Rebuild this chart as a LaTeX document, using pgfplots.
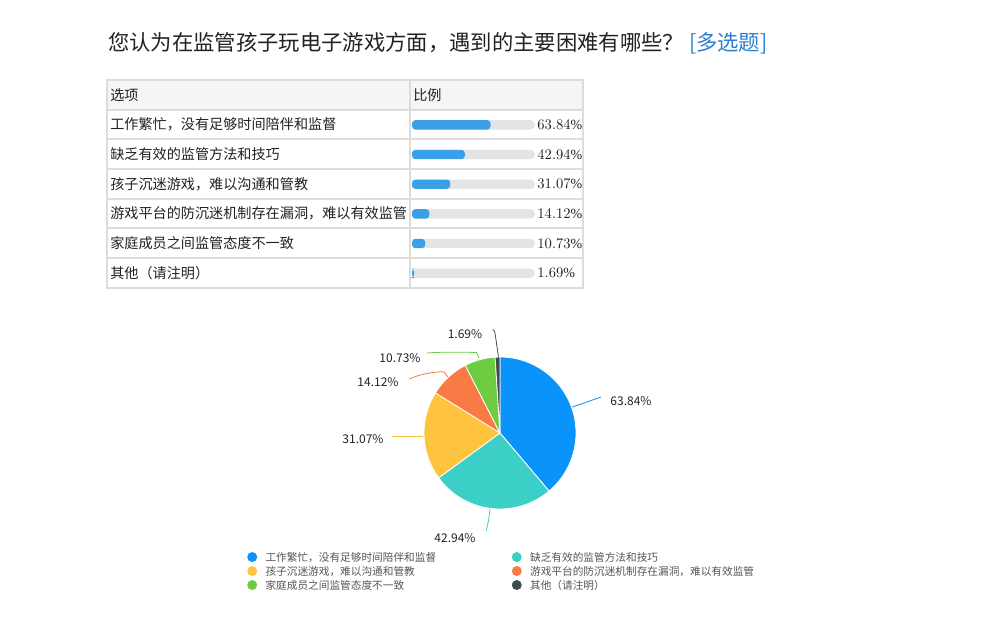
\documentclass[border=0pt]{standalone}
\usepackage{pgfplots}
\pgfplotsset{compat=1.18}
\usepackage{pgfplotstable}
\usepackage{fontspec}
\setmainfont{Noto Sans CJK SC}
\newfontfamily\cjk{Noto Sans CJK SC}
\newfontfamily\tnr{Liberation Serif}
\definecolor{cA}{HTML}{0A93FA}
\definecolor{cB}{HTML}{3BCFC8}
\definecolor{cC}{HTML}{FFC43D}
\definecolor{cD}{HTML}{FA7A45}
\definecolor{cE}{HTML}{6DCC40}
\definecolor{cF}{HTML}{3C4D52}
\definecolor{tblue}{HTML}{3A9FE6}
\definecolor{tgray}{HTML}{E4E4E4}
\definecolor{tline}{HTML}{DCDCDC}
\definecolor{thead}{HTML}{F5F5F5}
\definecolor{txt}{HTML}{222222}
\definecolor{ttl}{HTML}{2A7FCF}
\definecolor{lg}{HTML}{555555}

\pgfplotstableread{
row val full
1 63.84 100
2 42.94 100
3 31.07 100
4 14.12 100
5 10.73 100
6 1.69 100
}\tbl

\begin{document}
\begin{tikzpicture}
\path[fill=white, use as bounding box] (0,0) rectangle (750pt,-470.25pt);

% pie angles (slices proportional to the listed values)
\pgfmathsetmacro\tot{63.84+42.94+31.07+14.12+10.73+1.69}
\pgfmathsetmacro\sA{90}
\pgfmathsetmacro\sB{\sA-63.84/\tot*360}
\pgfmathsetmacro\sC{\sB-42.94/\tot*360}
\pgfmathsetmacro\sD{\sC-31.07/\tot*360}
\pgfmathsetmacro\sE{\sD-14.12/\tot*360}
\pgfmathsetmacro\sF{\sE-10.73/\tot*360}
\pgfmathsetmacro\sG{\sF-1.69/\tot*360}

\begin{scope}[x=0.75pt, y=-0.75pt]
  % title
  \node[anchor=west, inner sep=0pt, font=\fontsize{16}{18}\selectfont, text=txt] at (108,43)
    {您认为在监管孩子玩电子游戏方面，遇到的主要困难有哪些？ \textcolor{ttl}{[多选题]}};
  % table
  \fill[thead] (107,80) rectangle (583,110);
  \draw[tline, line width=1.1pt] (107,80) rectangle (583,288);
  \foreach \yy in {110,139,169,199,228,258} \draw[tline, line width=1.1pt] (107,\yy) -- (583,\yy);
  \draw[tline, line width=1.1pt] (410,80) -- (410,288);
  \begin{scope}[every node/.style={anchor=west, inner sep=0pt, font=\fontsize{10.6}{12}\selectfont, text=txt}]
    \node at (110,95) {选项};
    \node at (413,95) {比例};
    \node at (110,124.5) {工作繁忙，没有足够时间陪伴和监督};
    \node at (110,154) {缺乏有效的监管方法和技巧};
    \node at (110,184) {孩子沉迷游戏，难以沟通和管教};
    \node at (110,213.5) {游戏平台的防沉迷机制存在漏洞，难以有效监管};
    \node at (110,243) {家庭成员之间监管态度不一致};
    \node at (110,273) {其他（请注明）};
  \end{scope}
  % pie labels
  \begin{scope}[every node/.style={anchor=center, inner sep=0pt, font=\fontsize{9}{10}\selectfont, text=txt}]
    \node at (631,401) {63.84\%};
    \node at (455,538) {42.94\%};
    \node at (363,439) {31.07\%};
    \node at (378,382) {14.12\%};
    \node at (400,358) {10.73\%};
    \node at (465,334) {1.69\%};
  \end{scope}
  % leader lines
  \draw[cA, line width=0.6pt] (572,407) .. controls (585,403) and (592,400) .. (601,397);
  \draw[cB, line width=0.6pt] (490,509) .. controls (489,518) and (488,525) .. (486,531);
  \draw[cC, line width=0.6pt] (423,436) -- (392,436);
  \draw[cD, line width=0.6pt] (448,377) -- (444,372) .. controls (438,371) and (420,374) .. (409,379);
  \draw[cE, line width=0.6pt] (479,358) -- (476.5,352.5) .. controls (460,352) and (440,352) .. (427,353);
  \draw[cF, line width=0.6pt] (498.5,357) -- (495,333) .. controls (494.5,331) and (494,330) .. (492.5,329.5);
\end{scope}

% table bars
\begin{axis}[at={(309pt,-216pt)}, anchor=south west, scale only axis,
  width=92.25pt, height=133.5pt, xmin=0, xmax=100, ymin=0.5, ymax=6.5,
  y dir=reverse, hide axis, clip=false, bar width=7pt]
  \addplot[xbar, bar shift=0pt, fill=tgray, draw=none, rounded corners=3.5pt,
    point meta=explicit,
    nodes near coords={\pgfmathprintnumber[fixed, fixed zerofill, precision=2]{\pgfplotspointmeta}\%},
    every node near coord/.style={anchor=west, inner sep=0pt, xshift=1.6pt,
      font=\tnr\fontsize{10.5}{12}\selectfont, text=txt}]
    table[x=full, y=row, meta=val] {\tbl};
  \addplot[xbar, bar shift=0pt, fill=tblue, draw=none, rounded corners=2.5pt]
    table[x=val, y=row] {\tbl};
\end{axis}

% pie
\begin{axis}[at={(318pt,-381.75pt)}, anchor=south west, scale only axis,
  width=114pt, height=114pt, xmin=-1, xmax=1, ymin=-1, ymax=1,
  hide axis, clip=false,
  legend columns=2, legend cell align=left,
  legend style={at={(axis description cs:-1.1625,-0.281)}, anchor=north west,
    draw=none, fill=none, inner sep=0pt, outer sep=0pt, row sep=2.5pt,
    font=\fontsize{8}{9}\selectfont, text=lg,
    nodes={inner sep=0pt, text height=7pt, text depth=1pt}}]
  \fill[cA, draw=white, line width=0.6pt] (axis cs:0,0) -- ++(\sA:57pt) arc[start angle=\sA, end angle=\sB, radius=57pt] -- cycle;
  \fill[cB, draw=white, line width=0.6pt] (axis cs:0,0) -- ++(\sB:57pt) arc[start angle=\sB, end angle=\sC, radius=57pt] -- cycle;
  \fill[cC, draw=white, line width=0.6pt] (axis cs:0,0) -- ++(\sC:57pt) arc[start angle=\sC, end angle=\sD, radius=57pt] -- cycle;
  \fill[cD, draw=white, line width=0.6pt] (axis cs:0,0) -- ++(\sD:57pt) arc[start angle=\sD, end angle=\sE, radius=57pt] -- cycle;
  \fill[cE, draw=white, line width=0.6pt] (axis cs:0,0) -- ++(\sE:57pt) arc[start angle=\sE, end angle=\sF, radius=57pt] -- cycle;
  \fill[cF, draw=white, line width=0.6pt] (axis cs:0,0) -- ++(\sF:57pt) arc[start angle=\sF, end angle=\sG, radius=57pt] -- cycle;
  \addlegendimage{legend image code/.code={\fill[cA] (3.5pt,0pt) circle (3.5pt); \path (0pt,0pt) (13.3pt,0pt);}}
  \addlegendentry{\makebox[184.7pt][l]{工作繁忙，没有足够时间陪伴和监督}}
  \addlegendimage{legend image code/.code={\fill[cB] (3.5pt,0pt) circle (3.5pt); \path (0pt,0pt) (13.3pt,0pt);}}
  \addlegendentry{缺乏有效的监管方法和技巧}
  \addlegendimage{legend image code/.code={\fill[cC] (3.5pt,0pt) circle (3.5pt); \path (0pt,0pt) (13.3pt,0pt);}}
  \addlegendentry{\makebox[184.7pt][l]{孩子沉迷游戏，难以沟通和管教}}
  \addlegendimage{legend image code/.code={\fill[cD] (3.5pt,0pt) circle (3.5pt); \path (0pt,0pt) (13.3pt,0pt);}}
  \addlegendentry{游戏平台的防沉迷机制存在漏洞，难以有效监管}
  \addlegendimage{legend image code/.code={\fill[cE] (3.5pt,0pt) circle (3.5pt); \path (0pt,0pt) (13.3pt,0pt);}}
  \addlegendentry{\makebox[184.7pt][l]{家庭成员之间监管态度不一致}}
  \addlegendimage{legend image code/.code={\fill[cF] (3.5pt,0pt) circle (3.5pt); \path (0pt,0pt) (13.3pt,0pt);}}
  \addlegendentry{其他（请注明）}
\end{axis}
\end{tikzpicture}
\end{document}
